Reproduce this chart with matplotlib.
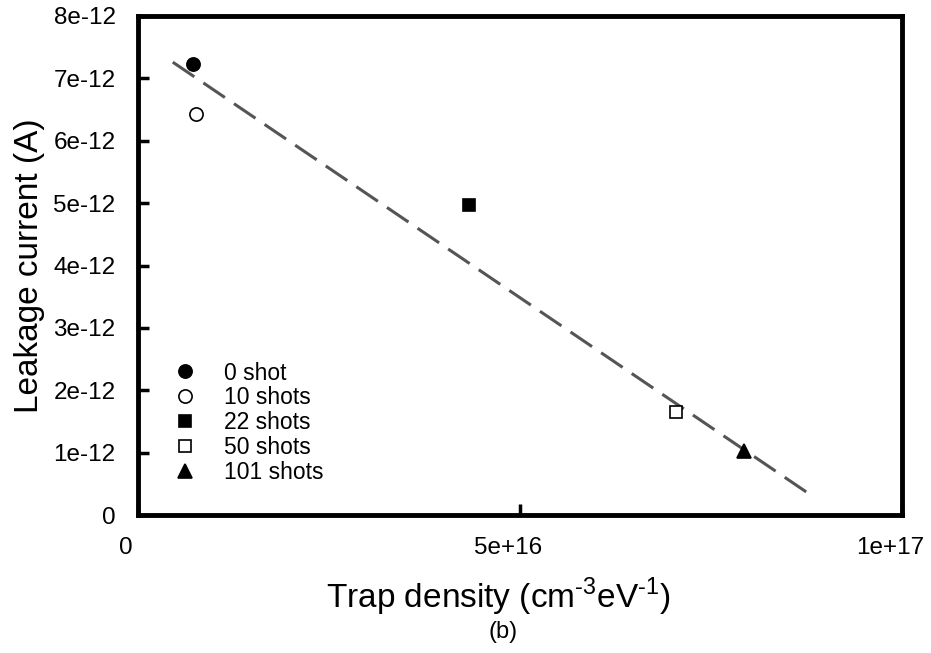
import matplotlib
matplotlib.use('Agg')
import matplotlib.pyplot as plt
import matplotlib.transforms as mtransforms

plt.rcParams['font.family'] = ['Liberation Sans', 'DejaVu Sans']
plt.rcParams['mathtext.fontset'] = 'custom'
plt.rcParams['mathtext.rm'] = 'Liberation Sans'

# data
labels = ['0 shot', '10 shots', '22 shots', '50 shots', '101 shots']
trap_density = [7.2e15, 7.6e15, 4.33e16, 7.04e16, 7.93e16]
leakage = [7.23e-12, 6.43e-12, 4.97e-12, 1.65e-12, 1.03e-12]
markers = ['o', 'o', 's', 's', '^']
faces = ['black', 'white', 'black', 'white', 'black']
sizes = [9.5, 9.5, 8, 8, 9.5]

# fitted trend line end points
fit_x = [4.58e15, 8.77e16]
fit_y = [7.26e-12, 0.35e-12]

xticks = [0, 5e16, 1e17]
xticklabels = ['0', '5e+16', '1e+17']
yticks = [i * 1e-12 for i in range(9)]
yticklabels = ['0'] + ['%de-12' % i for i in range(1, 9)]

fig = plt.figure(figsize=(9.31, 6.53), dpi=100)
ax = fig.add_axes([0.148, 0.2113, 0.821, 0.7642])

ax.plot(fit_x, fit_y, color='#555555', lw=2.2, dashes=(8.5, 3.6))
for x, y, m, f, s, lab in zip(trap_density, leakage, markers, faces, sizes, labels):
    ax.plot([x], [y], linestyle='none', marker=m, markersize=s,
            markerfacecolor=f, markeredgecolor='black', markeredgewidth=1.2, label=lab)

ax.set_xlim(0, 1e17)
ax.set_ylim(0, 8e-12)
ax.set_xticks(xticks)
ax.set_xticklabels(xticklabels)
ax.set_yticks(yticks)
ax.set_yticklabels(yticklabels)
ax.tick_params(direction='in', length=8, width=2.5, labelsize=17.5, pad=16)
ax.tick_params(axis='y', pad=16)

shift = mtransforms.ScaledTranslation(-12 / 100, 0, fig.dpi_scale_trans)
for t in ax.get_xticklabels():
    t.set_transform(t.get_transform() + shift)

for sp in ax.spines.values():
    sp.set_linewidth(3.5)

ax.set_ylabel('Leakage current (A)', fontsize=24, labelpad=6)
ax.set_xlabel(r'Trap density (cm$^{\text{-3}}$eV$^{\text{-1}}$)', fontsize=24, labelpad=12)
ax.xaxis.label.set_x(0.471)
fig.text(0.54, 0.032, '(b)', ha='center', va='center', fontsize=17)

ax.legend(loc='upper left', bbox_to_anchor=(0.02, 0.326), frameon=False,
          fontsize=16.5, handletextpad=0.7, labelspacing=0.08, borderaxespad=0)

fig.savefig('out.png', dpi=100)
